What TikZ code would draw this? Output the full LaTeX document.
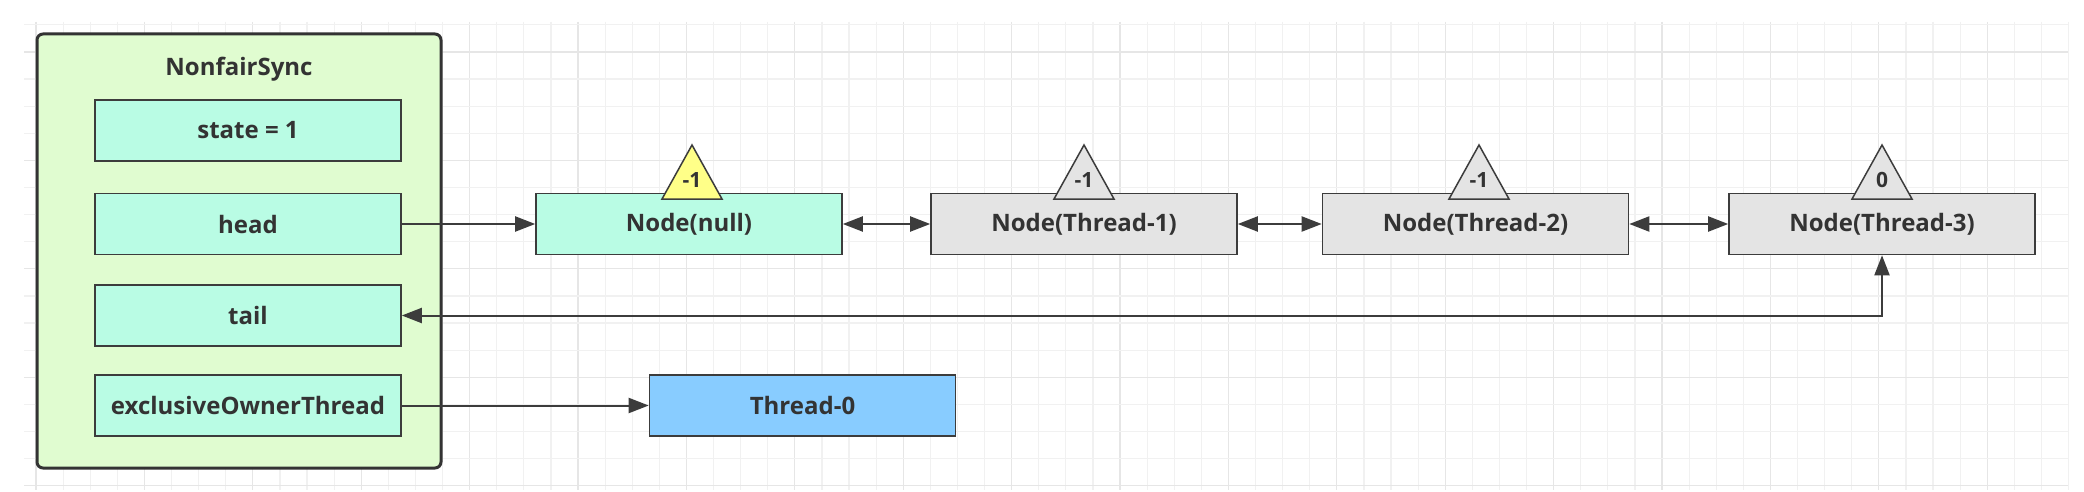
\documentclass[tikz,border=0pt]{standalone}
\usepackage{fontspec}
\setmainfont{Open Sans}
\usetikzlibrary{arrows.meta}
\definecolor{gridminor}{RGB}{241,241,241}
\definecolor{gridmajor}{RGB}{230,230,230}
\definecolor{outerfill}{RGB}{224,252,208}
\definecolor{mint}{RGB}{185,252,228}
\definecolor{nodegray}{RGB}{228,228,228}
\definecolor{threadblue}{RGB}{136,204,255}
\definecolor{triyellow}{RGB}{255,255,136}
\definecolor{ink}{RGB}{51,51,51}
\definecolor{edgec}{RGB}{60,60,60}
\tikzset{
  box/.style={draw=edgec, line width=1.6pt, minimum width=306pt, minimum height=61pt,
    inner sep=0pt, text=ink, font=\fontsize{24}{28}\selectfont\bfseries},
  field/.style={box, fill=mint},
  qnode/.style={box},
  outerbox/.style={draw=ink, line width=3pt, rounded corners=6pt, fill=outerfill},
  tri/.style={draw=edgec, line width=1.5pt, line join=miter},
  trilabel/.style={text=ink, inner sep=0pt, font=\fontsize{21}{24}\selectfont\bfseries},
  title/.style={text=ink, inner sep=0pt, font=\fontsize{24}{28}\selectfont\bfseries},
  conn/.style={draw=edgec, line width=2pt, -{Triangle[length=20pt,width=15pt]}},
  conn2/.style={draw=edgec, line width=2pt, {Triangle[length=20pt,width=15pt]}-{Triangle[length=20pt,width=15pt]}},
}
\begin{document}
\begin{tikzpicture}[x=1pt,y=-1pt]
\useasboundingbox (0,0) rectangle (2084,492);
\fill[white] (0,0) rectangle (2084,492);
% grid
\foreach \k in {0,...,75}{
  \pgfmathsetmacro{\gx}{36+27.1*\k}
  \pgfmathtruncatemacro{\m}{mod(\k,4)}
  \ifnum\m=0
    \draw[gridmajor, line width=1.2pt] (\gx,22) -- (\gx,490);
  \else
    \draw[gridminor, line width=1.2pt] (\gx,22) -- (\gx,490);
  \fi
}
\foreach \k in {0,...,17}{
  \pgfmathsetmacro{\gy}{24.9+27.1*\k}
  \pgfmathtruncatemacro{\m}{mod(\k,4)}
  \ifnum\m=1
    \draw[gridmajor, line width=1.2pt] (24,\gy) -- (2068,\gy);
  \else
    \draw[gridminor, line width=1.2pt] (24,\gy) -- (2068,\gy);
  \fi
}
% outer container
\draw[outerbox] (37,34) rectangle (441,468);
\node[title] (nfs) at (239,69) {NonfairSync};
\node[field] (state) at (248,130.5) {state = 1};
\node[field] (head) at (248,224) {head};
\node[field] (tail) at (248,315.5) {tail};
\node[field] (eot) at (248,405.5) {exclusiveOwnerThread};
% queue nodes
\node[qnode, fill=mint] (nnull) at (689,224) {Node(null)};
\node[qnode, fill=nodegray] (n1) at (1084,224) {Node(Thread-1)};
\node[qnode, fill=nodegray] (n2) at (1475.5,224) {Node(Thread-2)};
\node[qnode, fill=nodegray] (n3) at (1882,224) {Node(Thread-3)};
\node[box, fill=threadblue] (t0) at (802.5,405.5) {Thread-0};
% waitStatus triangles
\draw[tri, fill=triyellow] (662,199) -- (692,145) -- (722,199) -- cycle;
\node[trilabel] (w0) at (692,180) {-1};
\draw[tri, fill=nodegray] (1054,199) -- (1084,145) -- (1114,199) -- cycle;
\node[trilabel] (w1) at (1084,180) {-1};
\draw[tri, fill=nodegray] (1449,199) -- (1479,145) -- (1509,199) -- cycle;
\node[trilabel] (w2) at (1479,180) {-1};
\draw[tri, fill=nodegray] (1852,199) -- (1882,145) -- (1912,199) -- cycle;
\node[trilabel] (w3) at (1882,180) {0};
% connectors
\draw[conn] (head.east) -- (nnull.west);
\draw[conn2] (nnull.east) -- (n1.west);
\draw[conn2] (n1.east) -- (n2.west);
\draw[conn2] (n2.east) -- (n3.west);
\draw[conn2] (tail.east) -| (n3.south);
\draw[conn] (eot.east) -- (t0.west);
\end{tikzpicture}
\end{document}
